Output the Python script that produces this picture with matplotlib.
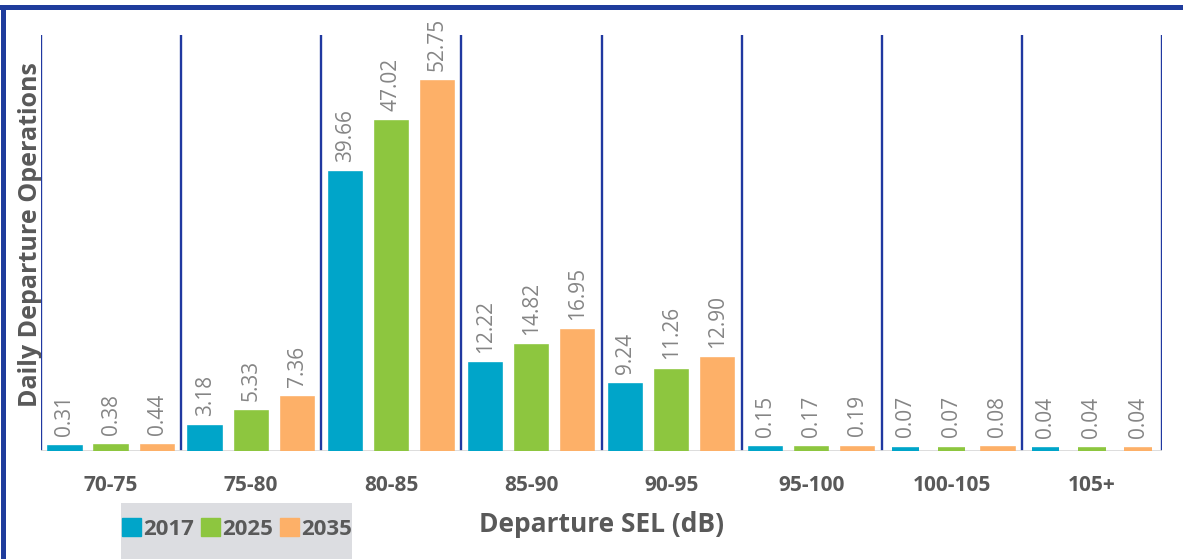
import matplotlib.pyplot as plt
import numpy as np
from matplotlib.lines import Line2D
from matplotlib.patches import Patch, Rectangle

plt.rcParams['font.family'] = ['Open Sans', 'DejaVu Sans']

categories = ['70-75', '75-80', '80-85', '85-90', '90-95', '95-100', '100-105', '105+']
years = ['2017', '2025', '2035']
ops_2017 = [0.31, 3.18, 39.66, 12.22, 9.24, 0.15, 0.07, 0.04]
ops_2025 = [0.38, 5.33, 47.02, 14.82, 11.26, 0.17, 0.07, 0.04]
ops_2035 = [0.44, 7.36, 52.75, 16.95, 12.90, 0.19, 0.08, 0.04]
colors = ['#00a5c9', '#8dc63f', '#fdb068']

fig = plt.figure(figsize=(11.83, 5.59), dpi=100)
ax = fig.add_axes([41 / 1183, 1 - 451 / 559, 1121 / 1183, 416 / 559])

x = np.arange(len(categories))
offset = 0.329
width = 0.195
for k, (vals, col) in enumerate(zip([ops_2017, ops_2025, ops_2035], colors)):
    pos = x + (k - 1) * offset
    ax.bar(pos, vals, width, color=col, edgecolor=col, linewidth=5.5, zorder=3)
    for p, v in zip(pos, vals):
        ax.annotate('%.2f' % v, (p, v), xytext=(0, 9.5), textcoords='offset points',
                    rotation=90, ha='center', va='bottom', fontsize=15,
                    color='#858585', zorder=4)

# group separators
for b in np.arange(len(categories) + 1) - 0.5:
    ax.axvline(b, color='#2038a0', linewidth=1.7, zorder=2)
ax.axhline(0, color='#d9d9d9', linewidth=2, zorder=2)

ax.set_xlim(-0.5, len(categories) - 0.5)
ax.set_ylim(0, 59.8)
ax.set_yticks([])
ax.set_xticks(x)
ax.set_xticklabels(categories, fontsize=15, fontweight='bold', color='#595959')
ax.tick_params(axis='x', length=0, pad=17)
for s in ax.spines.values():
    s.set_visible(False)

ax.set_xlabel('Departure SEL (dB)', fontsize=19, fontweight='bold', color='#595959', va='center')
ax.xaxis.set_label_coords(0.5, -0.1755)
ax.set_ylabel('Daily Departure Operations', fontsize=18, fontweight='bold', color='#595959', va='center')
ax.yaxis.set_label_coords(-0.0098, 0.52)

# legend background
fig.add_artist(Rectangle((121 / 1183, 0), 231 / 1183, 56 / 559, transform=fig.transFigure,
                         facecolor='#dcdde1', edgecolor='none', zorder=0))
handles = [Patch(facecolor=c, edgecolor=c) for c in colors]
leg = fig.legend(handles, years, loc='center', bbox_to_anchor=(237 / 1183, 1 - 529 / 559),
                 ncol=3, frameon=False, fontsize=16, handlelength=0.85, handleheight=0.85,
                 handletextpad=0.1, columnspacing=0.3, borderpad=0, borderaxespad=0)
for t in leg.get_texts():
    t.set_fontweight('bold')
    t.set_color('#595959')

# outer frame
fig.add_artist(Line2D([2.5 / 1183, 2.5 / 1183], [0, 1 - 7 / 559], color='#1f3c9c', linewidth=3.6))
fig.add_artist(Line2D([0, 1], [1 - 7 / 559, 1 - 7 / 559], color='#1f3c9c', linewidth=3.6))

fig.savefig('out.png', dpi=100)
